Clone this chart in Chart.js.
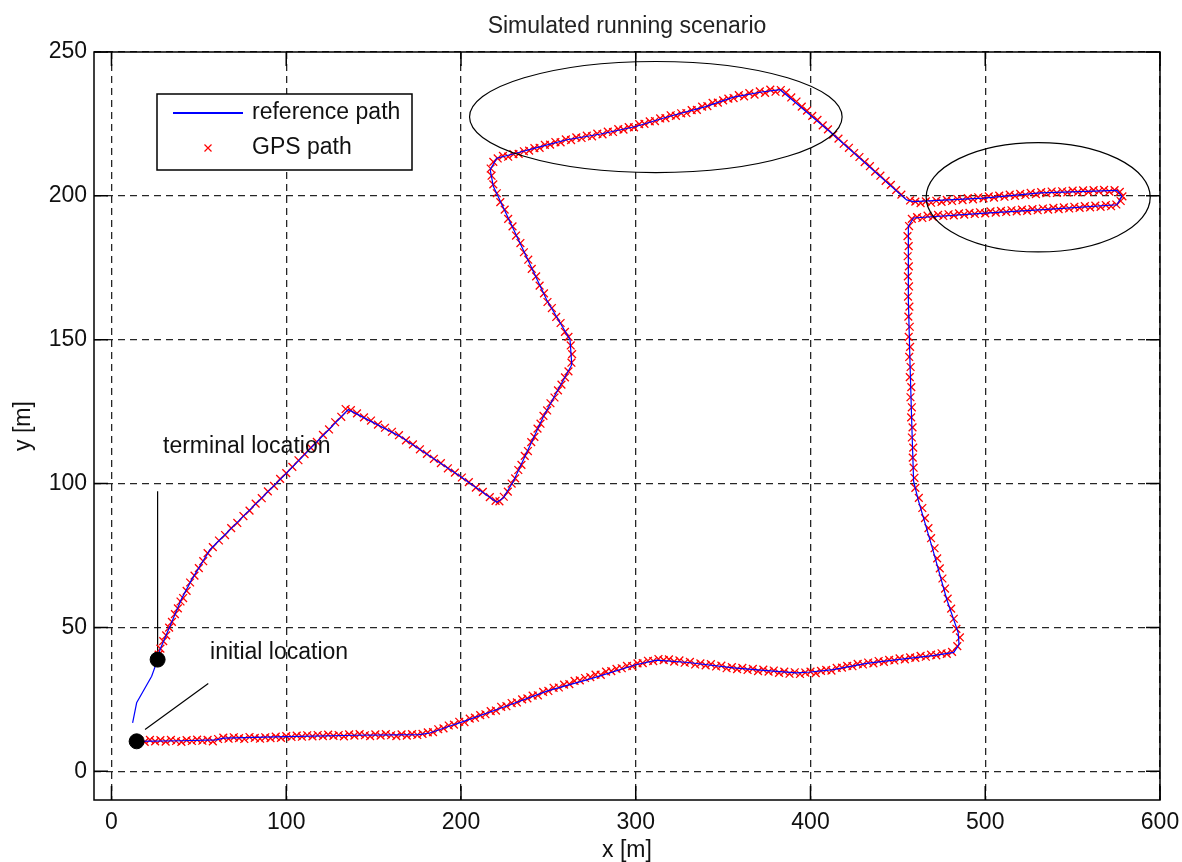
<!DOCTYPE html>
<html>
<head>
<meta charset="utf-8">
<title>Simulated running scenario</title>
<script src="https://cdn.jsdelivr.net/npm/chart.js@4.4.1/dist/chart.umd.min.js"></script>
<style>
  body { margin: 0; background: #fff; }
</style>
</head>
<body>
<canvas id="myChart" width="1182" height="862"></canvas>
<script>
// tick labels
const xTicks = [0, 100, 200, 300, 400, 500, 600];
const yTicks = [0, 50, 100, 150, 200, 250];

// reference path (blue line), [x, y] in metres
const refPath = [
  [14.4,10.4],[40,10.6],[60,10.9],[64,11.5],[100,12.0],[140,12.5],[176,12.7],[182,13.3],[188,14.5],[194,15.8],
  [200,17.0],[225,22.4],[250,28.0],[275,32.3],[300,37.0],[312,38.6],[330,37.8],[356,35.9],[375,35.0],[392,34.2],
  [400,34.5],[413,35.3],[432,37.5],[451,38.9],[470,40.2],[482,41.3],[485,44.0],[484.5,48.2],[478,59.7],[470,77.0],
  [461.6,94.4],[459,100.8],[458,120],[457,140.7],[456,163.9],[456,189.4],[458.9,192.3],[500,194.0],[540,195.5],[575.4,196.9],
  [578.2,199.8],[575.4,201.9],[531.5,201.0],[499,199.2],[458.9,198.0],[455,198.6],[413,221.3],[382.7,236.9],[372,236.1],[356,234.3],
  [340,231.0],[318,227.4],[300,224.1],[280,221.5],[260.6,219.5],[245,217.0],[232,214.9],[220.5,213.1],[216.7,209.1],[218.5,203.3],
  [249,163.9],[262.4,150],[263.4,141.3],[247.2,123.3],[230,100.8],[224.3,95.0],[220.5,93.5],[199.5,102.5],[165.1,116.4],[135.5,125.7],
  [100.3,103.7],[69.7,85.1],[56.4,77.0],[45.9,66.6],[40.2,60.0],[27.8,42.3],[26.4,38.8],[23,33],[14.4,23.8],[12.1,16.8]
];

// GPS fixes (red x markers), [x, y] in metres
const gpsPath = [
  [14.5,10.3],[16,10.6],[19,10.2],[22,10.9],[25,10.4],[28,10.8],[31,10.3],[34,10.9],[37,10.5],[40,10.2],[43,10.8],
  [46,10.5],[49,11.0],[52,10.6],[55,10.9],[58,10.4],[61,11.2],[64,11.7],[67,11.3],[70,11.8],[73,11.5],
  [76,11.2],[79,11.9],[82,11.6],[85,11.3],[88,11.8],[91,11.5],[94,12.0],[97,11.6],[100,12.2],[103,11.9],
  [106,12.4],[109,12.0],[112,12.5],[115,12.1],[118,12.6],[121,12.2],[124,12.7],[127,12.3],[130,12.6],[133,12.1],
  [136,12.8],[139,12.4],[142,12.9],[145,12.5],[148,12.2],[151,12.8],[154,12.4],[157,12.9],[160,12.5],[163,12.2],
  [166,12.8],[169,12.4],[172,12.9],[175,12.6],
  [178,13.0],[181,13.5],[184,13.6],[187,14.6],[190,14.9],[193,15.9],[196,16.2],[199,17.2],[202,17.1],[205,18.3],
  [208,18.6],[211,19.5],[214,19.8],[217,20.9],[220,21.1],[223,22.4],[226,22.6],[229,23.7],[232,23.9],[235,25.0],
  [238,25.3],[241,26.3],[244,26.4],[247,27.6],[250,27.9],[253,29.0],[256,29.1],[259,30.1],[262,30.3],[265,31.4],
  [268,31.6],[271,32.4],[274,32.7],[277,33.6],[280,33.5],[283,34.6],[286,34.8],[289,35.6],[292,35.8],[295,36.6],
  [298,36.5],[301,37.5],[304,37.6],[307,38.4],[310,38.3],[313,39.0],
  [316,38.6],[319,38.9],[322,38.1],[325,38.5],[328,37.7],[331,38.0],[334,37.1],[337,37.5],[340,36.8],[343,37.2],
  [346,36.4],[349,36.7],[352,35.8],[355,36.2],[358,35.5],[361,35.9],[364,35.2],[367,35.6],[370,34.8],[373,35.3],
  [376,34.6],[379,35.0],[382,34.2],[385,34.6],[388,33.9],[391,34.4],[394,33.8],[397,34.3],[400,34.6],[403,34.1],
  [406,34.9],[409,35.2],[412,35.0],[415,35.9],[418,36.0],[421,36.6],[424,36.5],[427,37.3],[430,37.1],[433,37.8],
  [436,37.5],[439,38.3],[442,38.0],[445,38.7],[448,38.5],[451,39.2],[454,38.9],[457,39.6],[460,39.4],[463,40.1],
  [466,39.8],[469,40.5],[472,40.3],[475,41.0],[478,40.8],[481,41.5],
  [484,43.5],[485.5,46.5],[483.5,49.5],[482,53],[480.5,56.5],[478.5,60],[477,63.5],[475.5,67],[474,70.5],[472.5,74],
  [471,77.5],[469,81],[467.5,84.5],[465.5,88],[464,91.5],[462,95],[460,98.5],[459.5,102],[459,105.5],[458.5,109],
  [458.8,112.5],[458,116],[458.4,119.5],[457.6,123],[458,126.5],[457.2,130],[457.7,133.5],[456.8,137],[457.3,140.5],[456.5,144],
  [457,147.5],[456.2,151],[456.8,154.5],[456,158],[456.6,161.5],[455.8,165],[456.4,168.5],[455.7,172],[456.3,175.5],[455.6,179],
  [456.2,182.5],[455.5,186],[456.4,189.5],[458,192],
  [461,192.6],[464,192.3],[467,193.1],[470,192.7],[473,193.4],[476,193.0],[479,193.6],[482,193.2],[485,193.9],[488,193.5],
  [491,194.1],[494,193.7],[497,194.3],[500,193.9],[503,194.6],[506,194.2],[509,194.8],[512,194.4],[515,195.0],[518,194.6],
  [521,195.2],[524,194.8],[527,195.4],[530,195.0],[533,195.6],[536,195.2],[539,195.8],[542,195.4],[545,196.0],[548,195.6],
  [551,196.2],[554,195.8],[557,196.4],[560,196.0],[563,196.6],[566,196.2],[569,196.8],[572,196.4],[575,197.0],[577.5,198.2],
  [578.5,199.8],[577,201.4],
  [574,202.0],[571,201.5],[568,202.1],[565,201.6],[562,202.0],[559,201.4],[556,201.9],[553,201.3],[550,201.8],[547,201.2],
  [544,201.6],[541,201.0],[538,201.5],[535,200.9],[532,201.3],[529,200.6],[526,201.0],[523,200.3],[520,200.7],[517,200.0],
  [514,200.4],[511,199.7],[508,200.1],[505,199.4],[502,199.8],[499,199.1],[496,199.5],[493,198.8],[490,199.2],[487,198.5],
  [484,198.9],[481,198.2],[478,198.6],[475,197.9],[472,198.3],[469,197.6],[466,198.1],[463,197.5],[460,198.0],[457,198.4],
  [452,200.4],[449,202.0],[446,203.8],[443,205.2],[440,207.0],[437,208.4],[434,210.3],[431,211.7],[428,213.5],[425,214.9],
  [422,216.7],[419,218.1],[416,219.9],[413,221.3],[410,223.1],[407,224.5],[404,226.4],[401,227.8],[398,229.6],[395,231.0],
  [392,232.8],[389,234.2],[386,235.9],[383,236.8],
  [380,236.2],[377,236.9],[374,235.8],[371,236.3],[368,235.2],[365,235.7],[362,234.6],[359,235.0],[356,234.0],[353,233.8],
  [350,233.2],[347,232.4],[344,232.3],[341,231.2],[338,231.0],[335,229.9],[332,229.8],[329,228.8],[326,228.7],[323,227.8],
  [320,228.0],[317,227.0],[314,226.9],[311,226.0],[308,225.9],[305,225.0],[302,224.9],[299,223.8],[296,223.9],[293,223.0],
  [290,223.2],[287,222.2],[284,222.3],[281,221.4],[278,221.6],[275,220.7],[272,220.9],[269,220.1],[266,220.3],[263,219.4],
  [260,219.6],[257,218.6],[254,218.7],[251,217.8],[248,217.7],[245,216.7],[242,216.6],[239,215.7],[236,215.5],[233,214.6],
  [230,214.5],[227,213.6],[224,213.9],[221,213.0],[218.5,211.8],[217,209.5],[217.5,207],[218.5,204],
  [220.5,200.9],[222.5,197.8],[225,195.2],[227,192.0],[229.5,189.4],[231.5,186.2],[234,183.6],[236,180.4],[238.5,177.8],[240.5,174.6],
  [243,172.0],[245,168.8],[247.5,166.1],[249.5,163.1],[252,161.0],[254.5,157.9],[257,155.8],[259.5,152.7],[261.5,151.0],[262.8,148.0],
  [263.6,145.0],[263.2,142.0],
  [261.5,139.0],[259.5,136.9],[257.5,134.4],[255.5,132.4],[253.5,129.9],[251.2,127.9],[249.3,125.4],[247.2,123.5],[245.5,120.8],[243.8,119.1],
  [242,116.2],[240.2,114.4],[238.3,111.3],[236.5,109.6],[234.6,106.5],[232.8,104.7],[231,101.8],[229,100.0],[226.8,97.2],[224.5,95.4],
  [222,93.8],[219.8,94.0],
  [216.5,95.3],[212.5,97.1],[208.5,98.6],[204.5,100.5],[200.5,102.1],[196.5,103.8],[192.5,105.3],[188.5,107.1],[184.5,108.6],[180.5,110.3],
  [176.5,111.9],[172.5,113.6],[168.5,115.0],[164.5,116.8],[160.5,118.0],[156.5,119.4],[152.5,120.5],[148.5,121.9],[144.5,123.0],[140.5,124.4],
  [137,125.5],[134,125.9],
  [131.5,123.2],[128,121.3],[124.5,118.8],[121,116.9],[117.5,114.5],[114,112.5],[110.5,110.2],[107,108.1],[103.5,105.8],[100,103.6],
  [96.5,101.6],[93,99.2],[89.5,97.3],[86,94.9],[82.5,93.0],[79,90.6],[75.5,88.7],[72,86.3],[68.5,84.5],[65,82.1],
  [61.5,80.2],[58,77.9],[55,75.8],[52.5,73.0],[50,70.6],[47.5,68.0],[45,65.6],[43,62.7],[41,60.2],[39.5,59.0],
  [38,56.6],[36.3,54.6],[34.6,51.9],[33,49.9],[31.3,47.2],[29.6,45.2],[28,42.6],[27,40.5]
];

// start / end markers and their pointer lines
const locationDots = [[14.4, 10.4], [26.4, 38.8]];
const terminalPointer = [[26.4, 97.3], [26.4, 38.8]];
const initialPointer = [[55.4, 30.5], [19.2, 14.5]];

// text notes
const noteText = ["terminal location", "initial location"];
const noteX = [29.5, 56.4];
const noteY = [112.8, 41.1];

// highlighted regions (ellipses): centre and half axes in metres
const ellipseCx = [311.5, 530.3];
const ellipseCy = [227.4, 199.5];
const ellipseRx = [106.6, 64.1];
const ellipseRy = [19.3, 19.0];

const FONT = "'Liberation Sans', Arial, sans-serif";
Chart.defaults.font.family = FONT;

function toXY(arr) {
  return arr.map((p) => ({ x: p[0], y: p[1] }));
}

const matlabFrame = {
  id: "matlabFrame",
  afterDatasetsDraw(chart) {
    const ctx = chart.ctx;
    const a = chart.chartArea;
    const xs = chart.scales.x;
    const ys = chart.scales.y;

    ctx.save();
    // ellipses
    ctx.strokeStyle = "#000";
    ctx.lineWidth = 1.2;
    for (let i = 0; i < ellipseCx.length; i++) {
      const cx = xs.getPixelForValue(ellipseCx[i]);
      const cy = ys.getPixelForValue(ellipseCy[i]);
      const rx = xs.getPixelForValue(ellipseCx[i] + ellipseRx[i]) - cx;
      const ry = cy - ys.getPixelForValue(ellipseCy[i] + ellipseRy[i]);
      ctx.beginPath();
      ctx.ellipse(cx, cy, rx, ry, 0, 0, Math.PI * 2);
      ctx.stroke();
    }

    // notes
    ctx.fillStyle = "#111";
    ctx.font = "23px " + FONT;
    ctx.textAlign = "left";
    ctx.textBaseline = "middle";
    for (let i = 0; i < noteText.length; i++) {
      ctx.fillText(noteText[i], xs.getPixelForValue(noteX[i]), ys.getPixelForValue(noteY[i]));
    }

    // axes box with inward ticks
    ctx.strokeStyle = "#000";
    ctx.lineWidth = 1.5;
    ctx.strokeRect(a.left, a.top, a.right - a.left, a.bottom - a.top);
    const tl = 14;
    ctx.beginPath();
    xTicks.forEach((v) => {
      const px = xs.getPixelForValue(v);
      ctx.moveTo(px, a.bottom); ctx.lineTo(px, a.bottom - tl);
      ctx.moveTo(px, a.top); ctx.lineTo(px, a.top + tl);
    });
    yTicks.forEach((v) => {
      const py = ys.getPixelForValue(v);
      ctx.moveTo(a.left, py); ctx.lineTo(a.left + tl, py);
      ctx.moveTo(a.right, py); ctx.lineTo(a.right - tl, py);
    });
    ctx.stroke();

    // legend
    const lx = a.left + 63, ly = a.top + 42;
    ctx.fillStyle = "#fff";
    ctx.fillRect(lx, ly, 255, 76);
    ctx.strokeStyle = "#000";
    ctx.lineWidth = 1.5;
    ctx.strokeRect(lx, ly, 255, 76);
    const ref = chart.data.datasets[1];
    const gps = chart.data.datasets[2];
    ctx.strokeStyle = ref.borderColor;
    ctx.lineWidth = 2;
    ctx.beginPath();
    ctx.moveTo(lx + 16, ly + 19);
    ctx.lineTo(lx + 86, ly + 19);
    ctx.stroke();
    ctx.strokeStyle = gps.borderColor;
    ctx.lineWidth = 1.2;
    ctx.beginPath();
    ctx.moveTo(lx + 47.5, ly + 50.5); ctx.lineTo(lx + 54.5, ly + 57.5);
    ctx.moveTo(lx + 54.5, ly + 50.5); ctx.lineTo(lx + 47.5, ly + 57.5);
    ctx.stroke();
    ctx.fillStyle = "#111";
    ctx.fillText(ref.label, lx + 95, ly + 19);
    ctx.fillText(gps.label, lx + 95, ly + 54);

    // title
    ctx.textAlign = "center";
    ctx.textBaseline = "alphabetic";
    ctx.fillStyle = "#222";
    ctx.fillText("Simulated running scenario", (a.left + a.right) / 2, 33);
    ctx.restore();
  },
};

const ctx = document.getElementById("myChart");

new Chart(ctx, {
  type: "scatter",
  data: {
    datasets: [
      {
        label: "locations",
        data: toXY(locationDots),
        pointRadius: 7.5,
        pointBackgroundColor: "#000",
        pointBorderColor: "#000",
        pointBorderWidth: 1,
      },
      {
        label: "reference path",
        data: toXY(refPath),
        showLine: true,
        borderColor: "#0000ff",
        borderWidth: 1.2,
        pointRadius: 0,
        tension: 0,
      },
      {
        label: "GPS path",
        data: toXY(gpsPath),
        pointStyle: "crossRot",
        pointRadius: 5.5,
        borderColor: "#ff0000",
        pointBorderWidth: 1.3,
      },
      {
        label: "terminal pointer",
        data: toXY(terminalPointer),
        showLine: true,
        borderColor: "#000",
        borderWidth: 1.2,
        pointRadius: 0,
      },
      {
        label: "initial pointer",
        data: toXY(initialPointer),
        showLine: true,
        borderColor: "#000",
        borderWidth: 1.2,
        pointRadius: 0,
      },
    ],
  },
  options: {
    responsive: false,
    animation: false,
    events: [],
    layout: { padding: { top: 52, right: 22, left: 0, bottom: 0 } },
    plugins: {
      legend: { display: false },
      tooltip: { enabled: false },
      title: { display: false },
    },
    scales: {
      x: {
        type: "linear",
        min: -10,
        max: 600,
        afterBuildTicks: (s) => { s.ticks = xTicks.map((v) => ({ value: v })); },
        afterFit: (s) => { s.height = 62; s.paddingLeft = 0; s.paddingRight = 0; },
        grid: { color: "#262626", lineWidth: 1.3, drawTicks: false },
        border: { display: false, dash: [7, 5] },
        ticks: { color: "#111", font: { size: 23 }, padding: 9, maxRotation: 0 },
        title: { display: true, text: "x [m]", color: "#111", font: { size: 23, lineHeight: 1 }, padding: 0 },
      },
      y: {
        type: "linear",
        min: -10,
        max: 250,
        afterBuildTicks: (s) => { s.ticks = yTicks.map((v) => ({ value: v })); },
        afterFit: (s) => { s.width = 94; s.paddingTop = 0; s.paddingBottom = 0; },
        grid: { color: "#262626", lineWidth: 1.3, drawTicks: false },
        border: { display: false, dash: [7, 5] },
        ticks: { color: "#111", font: { size: 23 }, padding: 7 },
        title: { display: true, text: "y [m]", color: "#111", font: { size: 23, lineHeight: 1 }, padding: { top: 12.5, bottom: 0 } },
      },
    },
  },
  plugins: [matlabFrame],
});
</script>
</body>
</html>
